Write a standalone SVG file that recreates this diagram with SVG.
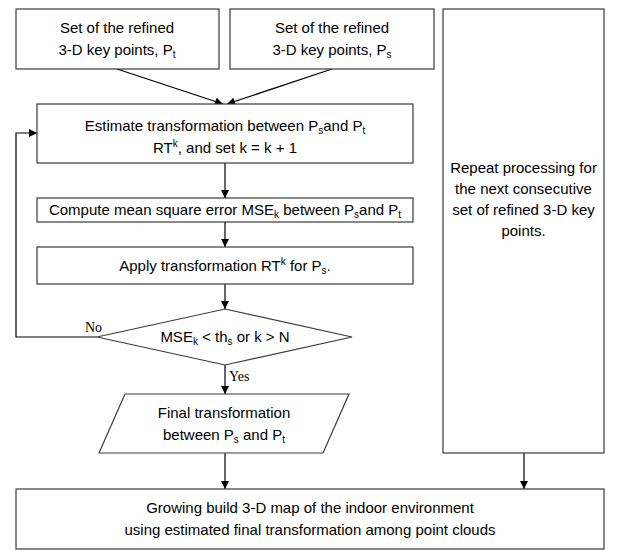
<svg xmlns="http://www.w3.org/2000/svg" width="623" height="550" viewBox="0 0 623 550">
<defs>
<marker id="arr" viewBox="0 0 10 10" refX="10" refY="5" markerWidth="9" markerHeight="8" orient="auto" markerUnits="userSpaceOnUse">
<path d="M0,0 L10,5 L0,10 z" fill="#000"/>
</marker>
<style>
.box{fill:#fff;stroke:#3a3a3a;stroke-width:1.2}
.t{font-family:"Liberation Sans",Arial,sans-serif;font-size:15px;fill:#000;text-anchor:middle}
.s{font-size:10px}
.lbl{font-family:"Liberation Serif","Times New Roman",serif;font-size:14px;fill:#000}
.c{fill:none;stroke:#000;stroke-width:1.2}
</style>
</defs>
<rect width="623" height="550" fill="#fff"/>
<g id="connectors">
<line class="c" x1="117" y1="69" x2="223" y2="104" marker-end="url(#arr)"/>
<line class="c" x1="332" y1="69" x2="227" y2="104" marker-end="url(#arr)"/>
<line class="c" x1="225" y1="163" x2="225" y2="198" marker-end="url(#arr)"/>
<line class="c" x1="225" y1="222" x2="225" y2="247" marker-end="url(#arr)"/>
<line class="c" x1="225" y1="284" x2="225" y2="309" marker-end="url(#arr)"/>
<line class="c" x1="225" y1="365" x2="225" y2="394" marker-end="url(#arr)"/>
<line class="c" x1="225" y1="453" x2="225" y2="489" marker-end="url(#arr)"/>
<line class="c" x1="524" y1="453" x2="524" y2="489" marker-end="url(#arr)"/>
<polyline class="c" points="97,337 16,337 16,133 37,133" marker-end="url(#arr)"/>
<text class="lbl" x="85" y="332">No</text>
<text class="lbl" x="229" y="381">Yes</text>
</g>
<g id="node-pt">
<rect class="box" x="16" y="9" width="203" height="60"/>
<text class="t" x="117" y="33">Set of the refined</text>
<text class="t" x="117" y="55">3-D key points, P<tspan class="s" dy="3">t</tspan></text>
</g>
<g id="node-ps">
<rect class="box" x="230" y="9" width="204" height="60"/>
<text class="t" x="332" y="33">Set of the refined</text>
<text class="t" x="332" y="55">3-D key points, P<tspan class="s" dy="3">s</tspan></text>
</g>
<g id="node-repeat">
<rect class="box" x="443" y="9" width="161" height="444"/>
<text class="t" x="523.5" y="173">Repeat processing for</text>
<text class="t" x="523.5" y="194">the next consecutive</text>
<text class="t" x="523.5" y="215">set of refined 3-D key</text>
<text class="t" x="523.5" y="236">points.</text>
</g>
<g id="node-estimate">
<rect class="box" x="37" y="104" width="376" height="59"/>
<text class="t" x="225" y="131">Estimate transformation  between P<tspan class="s" dy="3">s</tspan><tspan dy="-3">and P</tspan><tspan class="s" dy="3">t</tspan></text>
<text class="t" x="225" y="153">RT<tspan class="s" dy="-6">k</tspan><tspan dy="6">, and set k = k + 1</tspan></text>
</g>
<g id="node-compute">
<rect class="box" x="37" y="198" width="376" height="24"/>
<text class="t" x="225" y="215">Compute mean square error MSE<tspan class="s" dy="3">k</tspan><tspan dy="-3"> between P</tspan><tspan class="s" dy="3">s</tspan><tspan dy="-3">and P</tspan><tspan class="s" dy="3">t</tspan></text>
</g>
<g id="node-apply">
<rect class="box" x="37" y="247" width="376" height="37"/>
<text class="t" x="225" y="271">Apply transformation RT<tspan class="s" dy="-6">k</tspan><tspan dy="6"> for P</tspan><tspan class="s" dy="3">s</tspan><tspan dy="-3">.</tspan></text>
</g>
<g id="node-decision">
<polygon class="box" points="225,309 352,337 225,365 97,337"/>
<text class="t" x="225" y="342">MSE<tspan class="s" dy="3">k</tspan><tspan dy="-3"> &lt; th</tspan><tspan class="s" dy="3">s</tspan><tspan dy="-3"> or k &gt; N</tspan></text>
</g>
<g id="node-final">
<polygon class="box" points="125,394 349,394 323,453 99,453"/>
<text class="t" x="224" y="418">Final transformation</text>
<text class="t" x="224" y="440">between P<tspan class="s" dy="3">s</tspan><tspan dy="-3"> and P</tspan><tspan class="s" dy="3">t</tspan></text>
</g>
<g id="node-map">
<rect class="box" x="16" y="489" width="588" height="60"/>
<text class="t" x="310" y="513">Growing build 3-D map of the indoor environment</text>
<text class="t" x="310" y="535">using estimated final transformation among point clouds</text>
</g>
</svg>
